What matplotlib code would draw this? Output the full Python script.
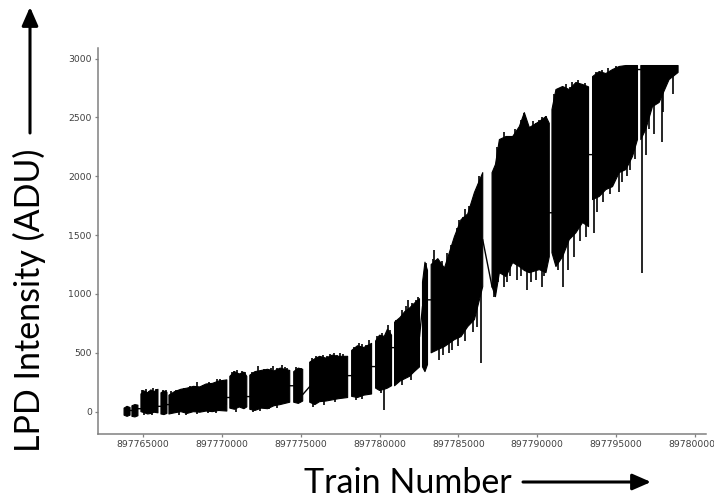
import numpy as np
import matplotlib
matplotlib.use('Agg')
import matplotlib.pyplot as plt

nan = np.nan
TRAIN0 = 897760000

# envelope of the LPD trace (train offset from TRAIN0, min / max ADU); nan splits the runs
env_off = [3800, 3990, 4180, nan,
           4300, 4490, 4680, nan,
           4870, 5100, 5300, 5500, 5700, 5950, nan,
           6140, 6330, 6520, nan,
           6646, 7000, 7400, 7800, 8200, 8600, 9000, 9400, 9800, 10317, nan,
           10507, 10800, 11100, 11400, 11583, nan,
           11773, 12100, 12500, 12900, 13300, 13700, 14000, 14305, nan,
           14558, 14850, 15128, nan,
           15571, 15900, 16200, 16600, 17000, 17400, 17977, nan,
           18230, 18600, 19000, 19496, nan,
           19749, 20000, 20300, 20500, 20762, nan,
           20952, 21300, 21600, 21900, 22200, 22534, nan,
           22724, 22880, 23041, nan,
           23272, 23694, 24116, 24749, 25171, 25593, 26016, 26543, nan,
           27134, 27350, 27599, 28021, 28443, 28865, 29181, 29498, 30130, 30552, 30763, nan,
           30932, 31185, 31607, 32029, 32451, 32873, 33253, nan,
           33506, 33928, 34350, 34772, 35194, 35617, 36039, 36355, nan,
           36567, 36883, 37305, 37726, 38359, 38929]
env_low = [-30, -40, -30, nan,
           -40, -45, -35, nan,
           0, -10, -20, -15, -5, -10, nan,
           -20, -25, -15, nan,
           -20, -10, 0, -15, 0, -5, 5, 0, 10, 5, nan,
           30, 20, 40, 25, 40, nan,
           20, 10, 30, 25, 50, 60, 70, 80, nan,
           80, 70, 90, nan,
           80, 60, 85, 90, 100, 110, 120, nan,
           130, 120, 140, 150, nan,
           200, 180, 190, 200, 220, nan,
           220, 260, 280, 300, 340, 380, nan,
           380, 340, 400, nan,
           500, 527, 553, 612, 638, 723, 782, 1062, nan,
           1062, 977, 1181, 1148, 1267, 1233, 1200, 1181, 1207, 1181, 1317, nan,
           1350, 1233, 1317, 1462, 1520, 1607, 1572, nan,
           1802, 1828, 1887, 1912, 2031, 2057, 2168, 2312, nan,
           2312, 2400, 2592, 2627, 2822, 2882]
env_high = [30, 45, 35, nan,
            50, 60, 55, nan,
            150, 175, 160, 185, 170, 190, nan,
            160, 175, 165, nan,
            140, 170, 190, 200, 215, 210, 235, 240, 260, 270, nan,
            300, 340, 320, 335, 300, nan,
            310, 340, 350, 360, 345, 370, 360, 350, nan,
            340, 370, 360, nan,
            420, 450, 470, 455, 480, 470, 470, nan,
            520, 560, 545, 580, nan,
            600, 650, 640, 700, 650, nan,
            760, 800, 850, 880, 920, 960, nan,
            1100, 1270, 1200, nan,
            1250, 1300, 1220, 1488, 1632, 1680, 1862, 2031, nan,
            2031, 2100, 2312, 2338, 2338, 2423, 2541, 2414, 2465, 2508, 2450, nan,
            2567, 2737, 2763, 2737, 2797, 2780, 2760, nan,
            2847, 2890, 2873, 2907, 2933, 2941, 2941, 2941, nan,
            2941, 2941, 2941, 2941, 2941, 2941]

# single samples sticking up out of the envelope (offset, from, to)
peak_off = [5000, 5630, 5890, 4950, 5200, 5400, 5800, 6250, 6450,
            6800, 7100, 7215, 7600, 8000, 8418, 8800, 9200, 9684, 9900, 10064, 10250,
            10650, 10760, 10950, 11250, 11330, 11500,
            11900, 12090, 12300, 12533, 12700, 13100, 13229, 13500, 13800, 13989, 14150,
            14700, 15000,
            15700, 16000, 16400, 16700, 16837, 17100, 17300, 17470, 17700,
            18400, 18700, 18863, 19150, 19300,
            19850, 20150, 20508, 20650,
            21050, 21142, 21450, 21700, 21775, 22050, 22300, 22407, 22977,
            23400, 23484, 23600, 23950, 24300, 24500, 24900, 25066, 25300, 25450,
            25700, 26143, 26300, 26400,
            27450, 27725, 27900, 28200, 28600, 29000, 29181, 29700, 29900, 30130,
            30300, 30573,
            31050, 31396, 31800, 32100, 32218, 32600, 33000, 33738,
            34100, 34500, 35000]
peak_lo = [60, 60, 60, 50, 50, 50, 50, 50, 50,
           60, 60, 60, 60, 60, 80, 60, 60, 100, 60, 100, 60,
           100, 150, 100, 100, 150, 100,
           100, 150, 100, 150, 100, 100, 200, 100, 100, 200, 100,
           150, 150,
           200, 200, 200, 200, 250, 200, 200, 250, 200,
           250, 250, 300, 250, 250,
           300, 300, 400, 300,
           400, 450, 400, 400, 600, 400, 400, 650, 700,
           700, 900, 700, 700, 700, 800, 800, 1100, 900, 900,
           1000, 1400, 1200, 1200,
           1500, 1900, 1500, 1500, 1500, 1600, 2000, 1600, 1600, 2000,
           1600, 2000,
           1800, 2300, 1800, 1900, 2300, 1900, 2000, 2400,
           2200, 2200, 2300]
peak_hi = [187, 204, 195, 180, 190, 175, 195, 185, 180,
           175, 185, 187, 200, 215, 255, 230, 250, 280, 275, 272, 265,
           335, 349, 350, 345, 331, 340,
           335, 340, 385, 349, 365, 375, 391, 370, 395, 383, 375,
           380, 375,
           460, 470, 480, 470, 493, 495, 485, 500, 490,
           550, 580, 578, 570, 610,
           640, 670, 740, 690,
           780, 757, 860, 900, 952, 920, 950, 977, 1267,
           1300, 1377, 1290, 1280, 1350, 1420, 1560, 1632, 1650, 1720,
           1750, 1870, 2000, 1950,
           2250, 2312, 2380, 2320, 2400, 2480, 2541, 2470, 2450, 2480,
           2500, 2515,
           2700, 2750, 2780, 2760, 2805, 2820, 2790, 2890,
           2900, 2920, 2935]

# single samples dropping below the envelope (offset, from, to)
dip_off = [5050, 5600, 7300, 7700, 8400, 9100, 9600, 10900,
           12000, 12400, 13000, 13500, 15800, 16500, 17200, 18500, 18900,
           20100, 20255, 21142, 21400, 22000,
           23800, 24000, 24400, 24623, 25000, 25400, 25900, 26200, 26459,
           27282, 27500, 27916, 28100, 28300, 28700, 29000, 29371, 29600, 29900,
           30320, 30450,
           31300, 31607, 31923, 32345, 32700, 33100,
           33612, 33800, 34200, 34600, 35194, 35400, 35700, 35900, 36200,
           36672, 36904, 37100, 37410, 37916, 38000, 38600]
dip_top = [100, 100, 100, 100, 100, 100, 100, 200,
           200, 200, 200, 200, 250, 250, 250, 300, 300,
           400, 300, 500, 500, 600,
           800, 900, 900, 900, 1000, 1000, 1100, 1200, 1100,
           1600, 1600, 1600, 1600, 1700, 1700, 1700, 1700, 1700, 1700,
           1700, 1700,
           2000, 1800, 1800, 1900, 2100, 2100,
           2100, 2300, 2300, 2400, 2400, 2400, 2500, 2500, 2500,
           2600, 2700, 2700, 2800, 2800, 2800, 2850]
dip_bottom = [-25, -30, -25, -30, -20, -15, -10, 0,
              -5, 5, 20, 30, 40, 60, 80, 100, 110,
              160, 17, 272, 230, 270,
              442, 480, 500, 527, 560, 600, 680, 720, 416,
              977, 1100, 1062, 1100, 1150, 1120, 1150, 1037, 1100, 1120,
              1062, 1150,
              1200, 1062, 1207, 1317, 1450, 1480,
              1521, 1700, 1780, 1850, 1870, 1950, 2000, 2050, 2150,
              1181, 2184, 2400, 2355, 2295, 2550, 2700]

# thin lines joining the runs across the gaps
link_off = [4180, 4300, nan, 4680, 4870, nan, 5950, 6140, nan, 6520, 6646, nan,
            10317, 10507, nan, 11583, 11773, nan, 14305, 14558, nan, 15128, 15571, nan,
            17977, 18230, nan, 19496, 19749, nan, 20762, 20952, nan, 22534, 22724, nan,
            23041, 23272, nan, 26543, 27134, nan, 30763, 30932, nan, 33253, 33506, nan,
            36355, 36567]
link_val = [10, 10, nan, 25, 25, nan, 45, 45, nan, 60, 60, nan,
            120, 120, nan, 128, 128, nan, 220, 220, nan, 145, 213, nan,
            306, 306, nan, 383, 383, nan, 544, 544, nan, 640, 890, nan,
            950, 950, nan, 1460, 1060, nan, 1690, 1690, nan, 2184, 2184, nan,
            2907, 2907]

x_ticks = [897765000, 897770000, 897775000, 897780000,
           897785000, 897790000, 897795000, 897800000]
y_ticks = [0, 500, 1000, 1500, 2000, 2500, 3000]

env_x = TRAIN0 + np.array(env_off)
link_x = TRAIN0 + np.array(link_off)

fig = plt.figure(figsize=(7.14, 5.0), dpi=100)
ax = fig.add_axes([0.1373, 0.132, 0.8515, 0.772])

ax.fill_between(env_x, env_low, env_high, color='black', edgecolor='black', lw=0.8)
ax.vlines(TRAIN0 + np.array(peak_off), peak_lo, peak_hi, color='black', lw=1.2)
ax.vlines(TRAIN0 + np.array(dip_off), dip_top, dip_bottom, color='black', lw=1.2)
ax.plot(link_x, link_val, color='black', lw=1.0)

ax.set_xlim(TRAIN0 + 2150, TRAIN0 + 40700)
ax.set_ylim(-190, 3090)
ax.set_xticks(x_ticks)
ax.set_xticklabels([str(t) for t in x_ticks])
ax.set_yticks(y_ticks)

for s in ['top', 'right']:
    ax.spines[s].set_visible(False)
for s in ['left', 'bottom']:
    ax.spines[s].set_color('#808080')
    ax.spines[s].set_linewidth(1.1)
ax.tick_params(labelsize=6.7, labelcolor='#404040', color='#808080',
               length=2.5, width=0.9, pad=2)

fig.text(0.0413, 0.40, 'LPD Intensity (ADU)', rotation=90, ha='center', va='center',
         fontsize=24.5, family='Lato', color='black')
fig.text(0.5707, 0.014, 'Train Number', ha='center', va='baseline',
         fontsize=24.5, family='Lato', color='black')

arrow = dict(arrowstyle='-|>,head_length=0.8,head_width=0.35', color='black',
             lw=2.2, mutation_scale=14, shrinkA=0, shrinkB=0)
ax.annotate('', xy=(30, 493), xytext=(30, 367), xycoords='figure pixels',
            textcoords='figure pixels', arrowprops=arrow, annotation_clip=False)
ax.annotate('', xy=(651, 18), xytext=(523, 18), xycoords='figure pixels',
            textcoords='figure pixels', arrowprops=arrow, annotation_clip=False)

fig.savefig('out.png', dpi=100)
